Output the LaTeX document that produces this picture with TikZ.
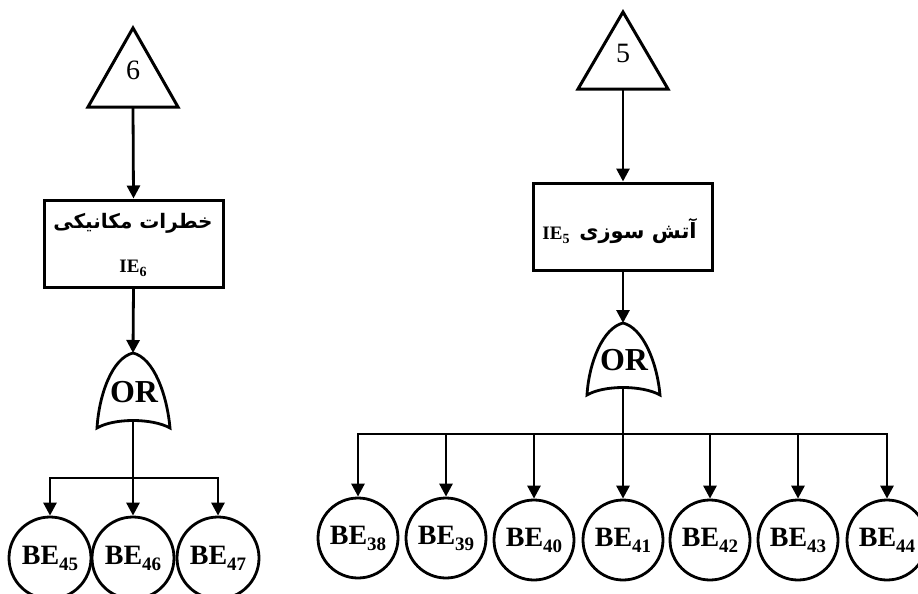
\documentclass[tikz,border=0pt]{standalone}
\usepackage{fontspec}
\setmainfont{Liberation Serif}
\newfontfamily\fa[Script=Arabic]{DejaVu Sans}
\TeXXeTstate=1
\usetikzlibrary{arrows.meta}
\newcommand{\bsubs}[2]{\raisebox{-0.22em}{\fontsize{#1}{#1}\selectfont #2}}
\begin{document}
\begin{tikzpicture}[x=1pt,y=-1pt,
  ln/.style={line width=2.8pt},
  arr/.style={ln,-{Triangle[width=13pt,length=13pt]}},
  tri/.style={line width=3pt,line join=miter},
  box/.style={draw,line width=3pt,minimum width=179pt,minimum height=87pt,inner sep=0pt},
  be/.style={draw,circle,line width=2.8pt,inner sep=0pt,font=\fontsize{28}{28}\selectfont\bfseries},
  orgate/.style={line width=2.8pt},
  ortext/.style={font=\fontsize{32}{32}\selectfont\bfseries},
  num/.style={font=\fontsize{28}{28}\selectfont},
  ietext/.style={font=\fontsize{19}{19}\selectfont\bfseries},
  fatext/.style={font=\fa\bfseries\fontsize{20}{20}\selectfont},
]
\useasboundingbox (0,0) rectangle (918,594);
\fill[white] (0,0) rectangle (918,594);

% ---------------- left tree ----------------
\draw[tri] (133,28) -- (178,107) -- (88,107) -- cycle;
\coordinate (t6) at (133,107);
\node[num] (n6) at (133,70) {6};

\node[box] (box6) at (133.5,243.5) {};
\node[fatext] (fa6) at (133,223) {\beginR خطرات مکانیکی\endR};
\node[ietext] (ie6) at (133,268) {IE\bsubs{14}{6}};
\draw[arr] (t6) -- (box6.north);

\coordinate (or6t) at (133,353);
\coordinate (or6b) at (133,421);
\draw[orgate,fill=white] (or6t) .. controls (112,358) and (99,395) .. (97,428)
   .. controls (114,418) and (152,418) .. (170,428)
   .. controls (167,395) and (154,358) .. (or6t) -- cycle;
\node[ortext] (or6) at (134,392) {OR};
\draw[arr] (box6.south) -- (or6t);

\node[be,minimum size=82pt] (be45) at (50,558) {BE\bsubs{19}{45}};
\node[be,minimum size=82pt] (be46) at (133,558) {BE\bsubs{19}{46}};
\node[be,minimum size=82pt] (be47) at (218,558) {BE\bsubs{19}{47}};
\coordinate (h6) at (133,478);
\draw[arr] (or6b) -- (be46.north);
\draw[arr] (h6) -| (be45.north);
\draw[arr] (h6) -| (be47.north);

% ---------------- right tree ----------------
\draw[tri] (623,12) -- (668,89) -- (578,89) -- cycle;
\coordinate (t5) at (623,89);
\node[num] (n5) at (623,53) {5};

\node[box] (box5) at (623,226.5) {};
\node[fatext,font=\fa\bfseries\fontsize{21}{21}\selectfont] (fa5) at (638,231) {\beginR آتش سوزی\endR};
\node[ietext] (ie5) at (556,235) {IE\bsubs{14}{5}};
\draw[arr] (t5) -- (box5.north);

\coordinate (or5t) at (623,323);
\coordinate (or5b) at (623,388);
\draw[orgate,fill=white] (or5t) .. controls (603,328) and (589,362) .. (587,395)
   .. controls (604,385) and (642,385) .. (660,395)
   .. controls (657,362) and (643,328) .. (or5t) -- cycle;
\node[ortext] (or5) at (624,360) {OR};
\draw[arr] (box5.south) -- (or5t);

\node[be,minimum size=80pt] (be38) at (358,538) {BE\bsubs{19}{38}};
\node[be,minimum size=80pt] (be39) at (446,538) {BE\bsubs{19}{39}};
\node[be,minimum size=80pt] (be40) at (534,540) {BE\bsubs{19}{40}};
\node[be,minimum size=80pt] (be41) at (623,540) {BE\bsubs{19}{41}};
\node[be,minimum size=80pt] (be42) at (710,540) {BE\bsubs{19}{42}};
\node[be,minimum size=80pt] (be43) at (798,540) {BE\bsubs{19}{43}};
\node[be,minimum size=80pt] (be44) at (887,540) {BE\bsubs{19}{44}};
\coordinate (h5) at (623,434);
\draw[arr] (or5b) -- (be41.north);
\draw[arr] (h5) -| (be38.north);
\draw[arr] (h5) -| (be39.north);
\draw[arr] (h5) -| (be40.north);
\draw[arr] (h5) -| (be42.north);
\draw[arr] (h5) -| (be43.north);
\draw[arr] (h5) -| (be44.north);
\end{tikzpicture}
\end{document}
